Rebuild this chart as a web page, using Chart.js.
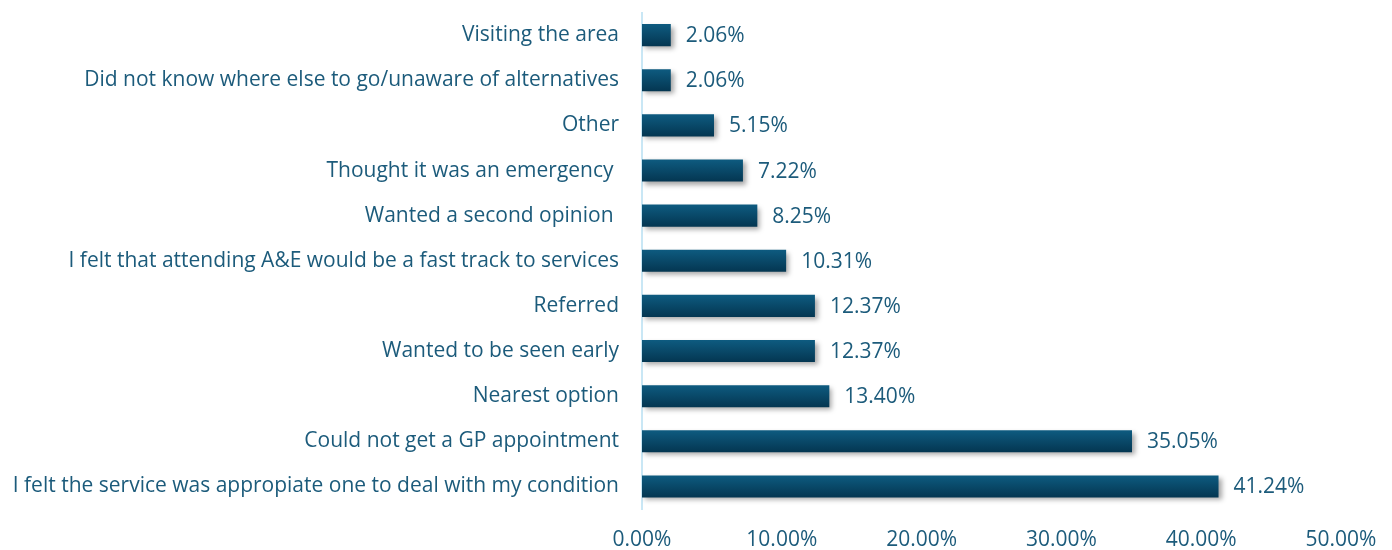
<!DOCTYPE html>
<html>
<head>
<meta charset="utf-8">
<script src="https://cdn.jsdelivr.net/npm/chart.js@4.4.1/dist/chart.umd.min.js"></script>
<style>
  html, body { margin: 0; padding: 0; background: #fff; }
  #wrap { width: 1392px; height: 550px; position: relative; }
</style>
</head>
<body>
<div id="wrap"><canvas id="reasonChart"></canvas></div>
<script>
// reasons, top to bottom as in the picture
const reasons = [
    "Visiting the area",
    "Did not know where else to go/unaware of alternatives",
    "Other",
    "Thought it was an emergency ",
    "Wanted a second opinion ",
    "I felt that attending A&E would be a fast track to services",
    "Referred",
    "Wanted to be seen early",
    "Nearest option",
    "Could not get a GP appointment",
    "I felt the service was appropiate one to deal with my condition"
];

// percentage of respondents
const percents = [2.06, 2.06, 5.15, 7.22, 8.25, 10.31, 12.37, 12.37, 13.40, 35.05, 41.24];

// x axis ticks
const axisMin = 0;
const axisMax = 50;
const axisStep = 10;

const textColor = "#1c5b7b";
const fontFamily = "'Open Sans', sans-serif";
const fontSize = 21;

//bar gradient top -> bottom
function barGradient(context) {
    const chart = context.chart;
    const yScale = chart.scales.y;
    if (!yScale) return "#0a4d70";
    const yc = yScale.getPixelForValue(context.dataIndex);
    if (!isFinite(yc)) return "#0a4d70";
    const g = chart.ctx.createLinearGradient(0, yc - 11, 0, yc + 11);
    g.addColorStop(0, "#0e5b80");
    g.addColorStop(1, "#043651");
    return g;
}

// drop shadow under the bars
const barShadow = {
    id: "barShadow",
    beforeDatasetsDraw(chart) {
        const ctx = chart.ctx;
        ctx.save();
        ctx.shadowColor = "rgba(0,0,0,0.35)";
        ctx.shadowBlur = 5;
        ctx.shadowOffsetX = 3;
        ctx.shadowOffsetY = 3;
    },
    afterDatasetsDraw(chart) {
        chart.ctx.restore();
    }
};

// value text right of each bar
const valueLabels = {
    id: "valueLabels",
    afterDraw(chart) {
        const ctx = chart.ctx;
        const meta = chart.getDatasetMeta(0);
        ctx.save();
        ctx.font = fontSize + "px " + fontFamily;
        ctx.fillStyle = textColor;
        ctx.textAlign = "left";
        ctx.textBaseline = "middle";
        meta.data.forEach((bar, i) => {
            ctx.fillText(percents[i].toFixed(2) + "%", bar.x + 15, bar.y + 1);
        });
        ctx.restore();
    }
};

new Chart(document.getElementById("reasonChart"), {
    type: "bar",
    data: {
        labels: reasons,
        datasets: [{
            data: percents,
            backgroundColor: barGradient,
            borderWidth: 0,
            categoryPercentage: 1,
            barPercentage: 0.49
        }]
    },
    options: {
        indexAxis: "y",
        responsive: true,
        maintainAspectRatio: false,
        animation: false,
        layout: {
            padding: { top: 10, right: 51, bottom: 0, left: 0 }
        },
        plugins: {
            legend: { display: false },
            tooltip: { enabled: false }
        },
        scales: {
            x: {
                min: axisMin,
                max: axisMax,
                ticks: {
                    stepSize: axisStep,
                    color: textColor,
                    font: { family: fontFamily, size: fontSize },
                    padding: 18,
                    callback: (v) => v.toFixed(2) + "%"
                },
                grid: { display: false, drawTicks: false },
                border: { display: false },
                afterFit: (s) => { s.height = 41; s.paddingLeft = 0; s.paddingRight = 0; }
            },
            y: {
                ticks: {
                    color: textColor,
                    font: { family: fontFamily, size: fontSize },
                    padding: 0,
                    autoSkip: false
                },
                // invisible tick marks only used to push the labels left of the axis
                grid: { display: true, drawOnChartArea: false, drawTicks: true, tickLength: 23, tickColor: "rgba(0,0,0,0)" },
                border: { display: true, color: "#c9e7f5", width: 2 },
                afterFit: (s) => { s.width = 642; }
            }
        }
    },
    plugins: [barShadow, valueLabels]
});
</script>
</body>
</html>
